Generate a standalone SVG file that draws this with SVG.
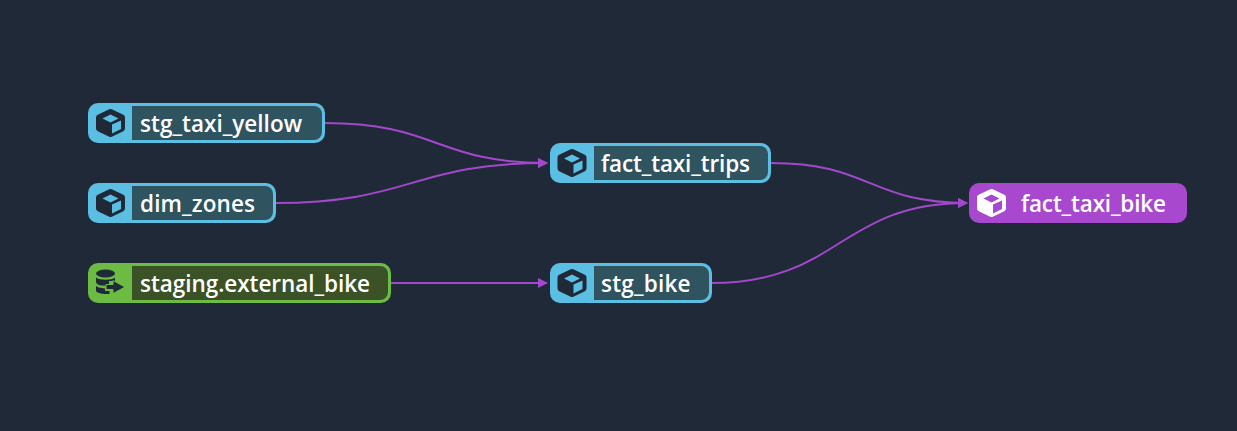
<svg xmlns="http://www.w3.org/2000/svg" width="1237" height="431" viewBox="0 0 1237 431">
<style>
.lbl{font-family:"Open Sans","Noto Sans","Liberation Sans",sans-serif;font-weight:600;font-size:22.500px;fill:#fff}
.edge{fill:none;stroke:#a347cc;stroke-width:2;marker-end:url(#arrow)}
.blue{fill:#5bbfe3}.green{fill:#6cbb42}.purple{fill:#a748cf}
.bluein{fill:#305360}.greenin{fill:#3b5126}
.body{stroke-width:6;stroke-linejoin:round}
</style>
<defs>
<marker id="arrow" viewBox="0 0 10 10" refX="9" refY="5" markerWidth="10" markerHeight="10" markerUnits="userSpaceOnUse" orient="auto"><path d="M0 0L10 5L0 10z" fill="#a347cc"/></marker>
<path id="hex" d="M0-11L11.500-5.500V5.500L0 11L-11.500 5.500V-5.500Z"/>
<path id="top" d="M0-8.500L8-4.500L0-0.500L-8-4.500Z"/>
<path id="side" d="M1.500 1.500L10.500-2.500V6L1.500 10.500Z"/>
</defs>
<rect width="1237" height="431" fill="#1f2937"/>
<g id="connectors">
<path class="edge" d="M324 123C437 123 437 163 547 163"/>
<path class="edge" d="M275 203C412 203 412 163 547 163"/>
<path class="edge" d="M390 283H547"/>
<path class="edge" d="M771 163C870 163 870 203 967 203"/>
<path class="edge" d="M711 283C840 283 840 203 967 203"/>
</g>
<g id="stg_taxi_yellow">
<rect class="blue" x="88" y="103" width="237" height="40" rx="10"/>
<path class="bluein" d="M132 106H314a8 8 0 0 1 8 8V132a8 8 0 0 1-8 8H132Z"/>
<g transform="translate(110.500 123)"><use href="#hex" class="body" fill="#1f2937" stroke="#1f2937"/><use href="#top" fill="#5bbfe3"/><use href="#side" fill="#5bbfe3"/></g>
<text class="lbl" x="140" y="132" textLength="162">stg_taxi_yellow</text>
</g>
<g id="dim_zones">
<rect class="blue" x="88" y="183" width="188" height="40" rx="10"/>
<path class="bluein" d="M132 186H265a8 8 0 0 1 8 8V212a8 8 0 0 1-8 8H132Z"/>
<g transform="translate(110.500 203)"><use href="#hex" class="body" fill="#1f2937" stroke="#1f2937"/><use href="#top" fill="#5bbfe3"/><use href="#side" fill="#5bbfe3"/></g>
<text class="lbl" x="140" y="212" textLength="115">dim_zones</text>
</g>
<g id="staging_external_bike">
<rect class="green" x="88" y="263" width="303" height="40" rx="10"/>
<path class="greenin" d="M132 266H380a8 8 0 0 1 8 8V292a8 8 0 0 1-8 8H132Z"/>
<g fill="#1f2937">
<ellipse cx="105.500" cy="273.500" rx="9.500" ry="4"/>
<path d="M96 277.500C99 280.500 112 280.500 115 277.500V281H109V285.500H101C98 285 96 283.500 96 282Z"/>
<path d="M96 286C98 287.500 101 288 105 288.500V291H109.500V294C102 294.500 96 293 96 290.500Z"/>
<path d="M106 284.500H113V280.500L125 287L113 293.500V289.500H106Z" stroke="#6cbb42" stroke-width="1"/>
</g>
<text class="lbl" x="140" y="292" textLength="230">staging.external_bike</text>
</g>
<g id="fact_taxi_trips">
<rect class="blue" x="550" y="143" width="221" height="40" rx="10"/>
<path class="bluein" d="M594 146H760a8 8 0 0 1 8 8V172a8 8 0 0 1-8 8H594Z"/>
<g transform="translate(572 163)"><use href="#hex" class="body" fill="#1f2937" stroke="#1f2937"/><use href="#top" fill="#5bbfe3"/><use href="#side" fill="#5bbfe3"/></g>
<text class="lbl" x="601" y="172" textLength="149">fact_taxi_trips</text>
</g>
<g id="stg_bike">
<rect class="blue" x="550" y="263" width="162" height="40" rx="10"/>
<path class="bluein" d="M594 266H701a8 8 0 0 1 8 8V292a8 8 0 0 1-8 8H594Z"/>
<g transform="translate(572 283)"><use href="#hex" class="body" fill="#1f2937" stroke="#1f2937"/><use href="#top" fill="#5bbfe3"/><use href="#side" fill="#5bbfe3"/></g>
<text class="lbl" x="601" y="292" textLength="89.500">stg_bike</text>
</g>
<g id="fact_taxi_bike">
<rect class="purple" x="969" y="183" width="218" height="40" rx="10"/>
<g transform="translate(991.500 203)"><use href="#hex" class="body" fill="#fff" stroke="#fff"/><use href="#top" fill="#a748cf"/><use href="#side" fill="#a748cf"/></g>
<text class="lbl" x="1021" y="212" textLength="145">fact_taxi_bike</text>
</g>
</svg>
